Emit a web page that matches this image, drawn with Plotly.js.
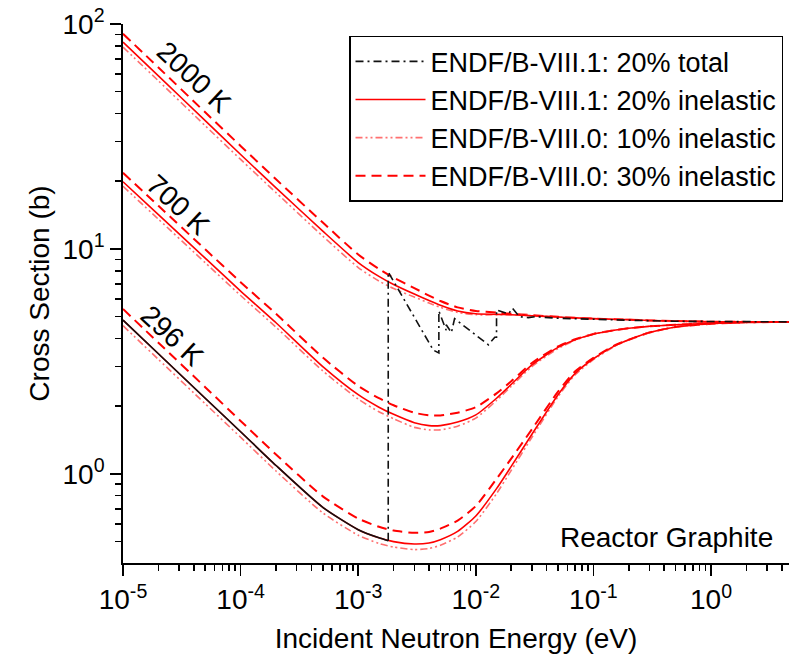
<!DOCTYPE html>
<html>
<head>
<meta charset="utf-8">
<script src="https://cdn.plot.ly/plotly-3.0.1.min.js"></script>
<style>html,body{margin:0;padding:0;background:#fff;}</style>
</head>
<body>
<div id="chart" style="width:793px;height:655px;"></div>
<script>
// ---- data ----
const energy = [1e-5, 2e-5, 5e-5, 1e-4, 2e-4, 5e-4, 1e-3, 1.5e-3, 2e-3, 3e-3, 4e-3, 5e-3, 7e-3,
                1e-2, 1.5e-2, 2e-2, 3e-2, 5e-2, 7e-2, 0.1, 0.15, 0.2, 0.3, 0.5, 1, 2, 5];

// ENDF/B-VIII.1 20% inelastic
const inel20_2000K = [83, 58.8, 37.2, 26.3, 18.7, 12.0, 8.7, 7.55, 6.95, 6.3, 5.9, 5.62, 5.3,
                      5.15, 5.12, 5.1, 5.05, 4.98, 4.94, 4.9, 4.87, 4.85, 4.81, 4.78, 4.75, 4.74, 4.74];
const inel20_700K  = [19.9, 14.2, 9.1, 6.5, 4.7, 3.0, 2.25, 1.98, 1.84, 1.69, 1.64, 1.64, 1.7,
                      1.83, 2.17, 2.5, 3.05, 3.65, 3.95, 4.18, 4.35, 4.44, 4.53, 4.6, 4.68, 4.72, 4.74];
const inel20_296K  = [4.83, 3.42, 2.17, 1.54, 1.09, 0.71, 0.565, 0.52, 0.50, 0.488, 0.493, 0.51, 0.555,
                      0.65, 0.86, 1.08, 1.5, 2.25, 2.8, 3.25, 3.7, 3.95, 4.25, 4.5, 4.65, 4.72, 4.74];

// ENDF/B-VIII.0 10% inelastic
const inel10_2000K = [78.9, 55.9, 35.3, 25.0, 17.8, 11.4, 8.27, 7.2, 6.67, 6.11, 5.75, 5.5, 5.22,
                      5.1, 5.1, 5.1, 5.05, 4.98, 4.94, 4.9, 4.87, 4.85, 4.81, 4.78, 4.75, 4.74, 4.74];
const inel10_700K  = [19.0, 13.56, 8.69, 6.21, 4.49, 2.87, 2.15, 1.89, 1.76, 1.61, 1.57, 1.57, 1.63,
                      1.77, 2.12, 2.45, 3.0, 3.61, 3.93, 4.18, 4.35, 4.44, 4.53, 4.6, 4.68, 4.72, 4.74];
const inel10_296K  = [4.56, 3.23, 2.05, 1.455, 1.03, 0.671, 0.534, 0.491, 0.473, 0.461, 0.466, 0.482, 0.524,
                      0.614, 0.817, 1.037, 1.455, 2.205, 2.76, 3.22, 3.68, 3.95, 4.25, 4.5, 4.65, 4.72, 4.74];

// ENDF/B-VIII.0 30% inelastic
const inel30_2000K = [90.5, 64.1, 40.5, 28.7, 20.4, 13.1, 9.45, 8.15, 7.45, 6.7, 6.2, 5.87, 5.5,
                      5.3, 5.22, 5.15, 5.08, 4.99, 4.94, 4.9, 4.87, 4.85, 4.81, 4.78, 4.75, 4.74, 4.74];
const inel30_700K  = [21.8, 15.55, 9.96, 7.12, 5.15, 3.29, 2.46, 2.17, 2.02, 1.87, 1.82, 1.82, 1.87,
                      1.98, 2.28, 2.58, 3.11, 3.69, 3.97, 4.19, 4.35, 4.44, 4.53, 4.6, 4.68, 4.72, 4.74];
const inel30_296K  = [5.41, 3.83, 2.43, 1.72, 1.22, 0.795, 0.633, 0.582, 0.56, 0.547, 0.552, 0.571, 0.62,
                      0.72, 0.95, 1.17, 1.58, 2.32, 2.86, 3.28, 3.72, 3.95, 4.25, 4.5, 4.65, 4.72, 4.74];

// ENDF/B-VIII.1 20% total (296 K), with Bragg edges
const totalE  = [1e-5, 2e-5, 5e-5, 1e-4, 2e-4, 5e-4, 1e-3, 1.5e-3, 1.8e-3,
                 1.8e-3, 4.35e-3, 4.85e-3, 4.85e-3, 5.6e-3, 5.6e-3, 6.2e-3, 6.6e-3, 1.28e-2, 1.45e-2, 1.5e-2,
                 1.5e-2, 1.9e-2, 2.05e-2, 2.35e-2, 2.8e-2, 3.2e-2, 5e-2, 0.1, 0.2, 0.5, 1, 5];
const totalXS = [4.83, 3.42, 2.17, 1.54, 1.09, 0.71, 0.565, 0.52, 0.505,
                 7.9, 3.55, 3.45, 5.3, 4.35, 4.6, 4.25, 4.9, 3.75, 4.05, 4.05,
                 5.35, 5.15, 5.45, 5.0, 4.95, 5.0, 4.92, 4.86, 4.82, 4.77, 4.75, 4.74];
const braggEdgeIndex = 8;

const xTickVals = [1e-5, 1e-4, 1e-3, 1e-2, 1e-1, 1];
const xTickText = ['10<sup>-5</sup>', '10<sup>-4</sup>', '10<sup>-3</sup>', '10<sup>-2</sup>', '10<sup>-1</sup>', '10<sup>0</sup>'];
const yTickVals = [1, 10, 100];
const yTickText = ['10<sup>0</sup>', '10<sup>1</sup>', '10<sup>2</sup>'];

const seriesNames = ['ENDF/B-VIII.1: 20% total', 'ENDF/B-VIII.1: 20% inelastic',
                     'ENDF/B-VIII.0: 10% inelastic', 'ENDF/B-VIII.0: 30% inelastic'];
const tempLabels = ['2000 K', '700 K', '296 K'];

// ---- styles ----
const FONT = 'Liberation Sans, Arial, sans-serif';
const RED = '#ff0000';
const PINK = '#ff7070';
const styleDash = {color: RED, width: 2, dash: '10px,6px', shape: 'spline', smoothing: 0.6};
const styleDot  = {color: PINK, width: 1.6, dash: '7px,3px,2px,3px,2px,3px', shape: 'spline', smoothing: 0.6};
const styleSolid = {color: RED, width: 1.6, shape: 'spline', smoothing: 0.6};

const traces = [];
function addGroup(sets, style, name, rank) {
  sets.forEach((ys, i) => {
    traces.push({x: energy, y: ys, type: 'scatter', mode: 'lines', line: style,
                 name: name, legendgroup: name, showlegend: i === 0, legendrank: rank,
                 hoverinfo: 'skip'});
  });
}
addGroup([inel30_2000K, inel30_700K, inel30_296K], styleDash, seriesNames[3], 4);
addGroup([inel10_2000K, inel10_700K, inel10_296K], styleDot, seriesNames[2], 3);
addGroup([inel20_2000K, inel20_700K, inel20_296K], styleSolid, seriesNames[1], 2);
traces.push({x: totalE.slice(0, braggEdgeIndex + 1), y: totalXS.slice(0, braggEdgeIndex + 1),
             type: 'scatter', mode: 'lines', line: {color: '#111', width: 1.6, shape: 'spline', smoothing: 0.6},
             name: seriesNames[0], legendgroup: seriesNames[0], showlegend: false, hoverinfo: 'skip'});
traces.push({x: totalE.slice(braggEdgeIndex), y: totalXS.slice(braggEdgeIndex),
             type: 'scatter', mode: 'lines', line: {color: '#111', width: 1.6, dash: '8px,4px,2px,4px'},
             name: seriesNames[0], legendgroup: seriesNames[0], showlegend: true, legendrank: 1, hoverinfo: 'skip'});

const minorX = [];
for (let k = -5; k <= 0; k++) for (let m = 2; m <= 9; m++) minorX.push(m * Math.pow(10, k));
const minorY = [];
for (let k = -1; k <= 1; k++) for (let m = 2; m <= 9; m++) minorY.push(m * Math.pow(10, k));

const xRange = [-5, 0.663];
const yRange = [-0.396, 2];
const axisCommon = {type: 'log', showgrid: false, zeroline: false, showline: true,
                    linecolor: '#000', linewidth: 1.8, tickcolor: '#000', tickwidth: 1.6};

const annFont = {family: FONT, size: 28, color: '#000'};
const layout = {
  width: 793, height: 655,
  margin: {l: 123, r: 4, t: 24, b: 92},
  paper_bgcolor: '#fff', plot_bgcolor: '#fff',
  font: {family: FONT, size: 28, color: '#000'},
  showlegend: true,
  xaxis: Object.assign({}, axisCommon, {
    range: xRange, autorange: false,
    tickmode: 'array', tickvals: xTickVals, ticktext: xTickText,
    ticks: 'outside', ticklen: 11,
    tickfont: {family: FONT, size: 28, color: '#000'},
    minor: {tickmode: 'array', tickvals: minorX, ticks: 'outside', ticklen: 6, tickwidth: 1.5, tickcolor: '#000', showgrid: false},
    title: {text: 'Incident Neutron Energy (eV)', font: {family: FONT, size: 28, color: '#000'}, standoff: 14},
    automargin: false
  }),
  yaxis: Object.assign({}, axisCommon, {
    range: yRange, autorange: false,
    tickmode: 'array', tickvals: yTickVals, ticktext: yTickText,
    ticks: 'outside', ticklen: 11,
    tickfont: {family: FONT, size: 28, color: '#000'},
    minor: {tickmode: 'array', tickvals: minorY, ticks: 'outside', ticklen: 6, tickwidth: 1.5, tickcolor: '#000', showgrid: false},
    title: {text: 'Cross Section (b)', font: {family: FONT, size: 28, color: '#000'}, standoff: 5},
    automargin: false
  }),
  xaxis2: Object.assign({}, axisCommon, {
    range: xRange, autorange: false, overlaying: 'x', anchor: 'y', side: 'top',
    tickmode: 'array', tickvals: xTickVals, showticklabels: false,
    ticks: 'inside', ticklen: 9,
    minor: {tickmode: 'array', tickvals: minorX, ticks: 'inside', ticklen: 5, tickwidth: 1.5, tickcolor: '#000', showgrid: false}
  }),
  yaxis2: Object.assign({}, axisCommon, {
    range: yRange, autorange: false, overlaying: 'y', anchor: 'x', side: 'right',
    tickmode: 'array', tickvals: yTickVals, showticklabels: false,
    ticks: 'inside', ticklen: 9,
    minor: {tickmode: 'array', tickvals: minorY, ticks: 'inside', ticklen: 5, tickwidth: 1.5, tickcolor: '#000', showgrid: false}
  }),
  legend: {
    x: 0.991, xanchor: 'right', y: 0.978, yanchor: 'top',
    bgcolor: '#fff', bordercolor: '#000', borderwidth: 1.5,
    font: {family: FONT, size: 27, color: '#000'},
    tracegroupgap: 0, itemwidth: 70
  },
  annotations: [
    {text: tempLabels[0], xref: 'paper', yref: 'paper', x: 0.1066, y: 0.900, textangle: 43,
     xanchor: 'center', yanchor: 'middle', showarrow: false, font: annFont},
    {text: tempLabels[1], xref: 'paper', yref: 'paper', x: 0.0826, y: 0.666, textangle: 43,
     xanchor: 'center', yanchor: 'middle', showarrow: false, font: annFont},
    {text: tempLabels[2], xref: 'paper', yref: 'paper', x: 0.0736, y: 0.423, textangle: 43,
     xanchor: 'center', yanchor: 'middle', showarrow: false, font: annFont},
    {text: 'Reactor Graphite', xref: 'paper', yref: 'paper', x: 0.979, y: 0.048,
     xanchor: 'right', yanchor: 'middle', showarrow: false, font: annFont}
  ]
};

Plotly.newPlot('chart', traces, layout, {staticPlot: true, displayModeBar: false});
</script>
</body>
</html>
